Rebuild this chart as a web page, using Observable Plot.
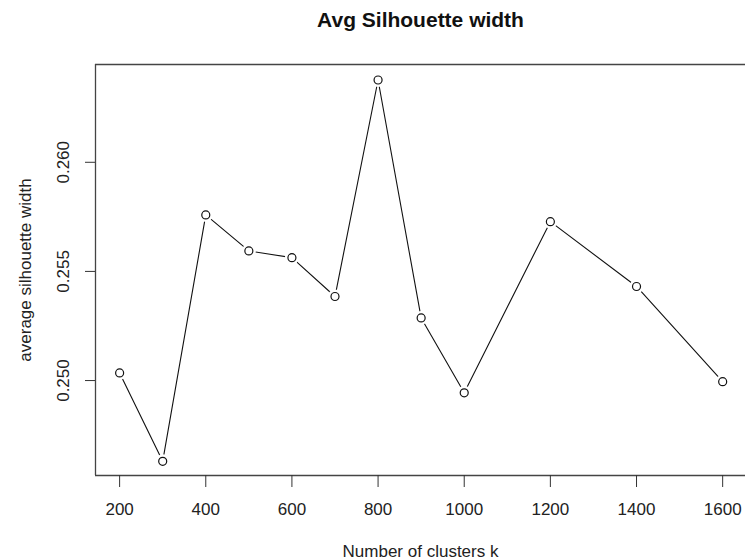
<!DOCTYPE html>
<html>
<head>
<meta charset="utf-8">
<script src="https://cdn.jsdelivr.net/npm/d3@7"></script>
<script src="https://cdn.jsdelivr.net/npm/@observablehq/plot@0.6"></script>
<style>
  html, body { margin: 0; padding: 0; background: #fff; }
  #chart svg { display: block; }
</style>
</head>
<body>
<div id="chart"></div>
<script>
const clusters = [200, 300, 400, 500, 600, 700, 800, 900, 1000, 1200, 1400, 1600];
const silhouette = [0.25035, 0.2463, 0.25759, 0.25594, 0.25563, 0.25385, 0.26377, 0.25287, 0.24944, 0.25728, 0.25431, 0.24995];
const xTicks = [200, 400, 600, 800, 1000, 1200, 1400, 1600];
const yTicks = [0.250, 0.255, 0.260];
const titleText = "Avg Silhouette width";
const xLabel = "Number of clusters k";
const yLabel = "average silhouette width";

const data = clusters.map((k, i) => ({k, s: silhouette[i]}));
const xDomain = [144, 1653];
const yDomain = [0.24565, 0.26448];
const font = "Liberation Sans, Arial, Helvetica, sans-serif";
const ink = "#222";

const chart = Plot.plot({
  width: 745,
  height: 560,
  marginLeft: 95,
  marginRight: 0,
  marginTop: 64,
  marginBottom: 85,
  style: {fontFamily: font, fontSize: "17px", background: "#fff", color: ink},
  x: {domain: xDomain},
  y: {domain: yDomain},
  marks: [
    // box (R style, right side off-canvas)
    Plot.ruleY([yDomain[0], yDomain[1]], {stroke: "#444", strokeWidth: 1.3}),
    Plot.ruleX([xDomain[0]], {stroke: "#444", strokeWidth: 1.3}),
    // x axis
    Plot.axisX({ticks: xTicks, tickSize: 12, tickPadding: 15, tickFormat: d => String(d), label: null,
                fontSize: 17, stroke: "#333", fill: ink}),
    // y axis ticks
    Plot.axisY({ticks: yTicks, tickSize: 10, tickFormat: () => "", label: null, stroke: "#333"}),
    // y tick labels rotated
    Plot.text(yTicks, {y: d => d, frameAnchor: "left", dx: -32, rotate: -90,
                       text: d => d.toFixed(3), textAnchor: "middle", lineAnchor: "middle",
                       fontSize: 17, fill: ink}),
    // line with gaps around points (R type="b")
    Plot.line(data, {x: "k", y: "s", stroke: "#111", strokeWidth: 1.1}),
    Plot.dot(data, {x: "k", y: "s", r: 7, fill: "#fff", stroke: "none"}),
    Plot.dot(data, {x: "k", y: "s", r: 4, fill: "none", stroke: "#111", strokeWidth: 1.2}),
    // titles
    Plot.text([titleText], {frameAnchor: "top", dy: -44, lineAnchor: "middle",
                            fontSize: 21, fontWeight: "bold", fill: "#111"}),
    Plot.text([xLabel], {frameAnchor: "bottom", dy: 76, lineAnchor: "middle",
                         fontSize: 17, fill: ink}),
    Plot.text([yLabel], {frameAnchor: "left", dx: -70, rotate: -90, textAnchor: "middle",
                         lineAnchor: "middle", fontSize: 17, fill: ink})
  ]
});
document.getElementById("chart").append(chart);
</script>
</body>
</html>
